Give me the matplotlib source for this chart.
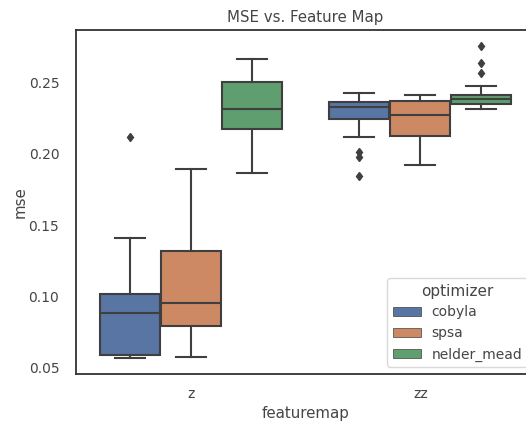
import matplotlib
matplotlib.use("Agg")
import matplotlib.pyplot as plt
from matplotlib.patches import Patch


FEATUREMAPS = ["z", "zz"]
OPTIMIZERS = ["cobyla", "spsa", "nelder_mead"]
COLORS = ["#5875a4", "#cc8963", "#5f9e6e"]

# box stats per optimizer, one value per featuremap (z, zz)
WHISLO = {
    "cobyla": [0.057, 0.2113],
    "spsa": [0.0577, 0.1917],
    "nelder_mead": [0.1864, 0.2313],
}
Q1 = {
    "cobyla": [0.059, 0.2239],
    "spsa": [0.0794, 0.2122],
    "nelder_mead": [0.2169, 0.2348],
}
MEDIAN = {
    "cobyla": [0.0885, 0.2327],
    "spsa": [0.0955, 0.2267],
    "nelder_mead": [0.2313, 0.2381],
}
Q3 = {
    "cobyla": [0.1017, 0.2362],
    "spsa": [0.1318, 0.2367],
    "nelder_mead": [0.2498, 0.2411],
}
WHISHI = {
    "cobyla": [0.1410, 0.2423],
    "spsa": [0.1890, 0.2409],
    "nelder_mead": [0.2663, 0.2474],
}
FLIERS = {
    "cobyla": [[0.2115], [0.2013, 0.1978, 0.1843]],
    "spsa": [[], []],
    "nelder_mead": [[], [0.2754, 0.2635, 0.2565]],
}

LINE_GRAY = "#3f3f3f"
TEXT_GRAY = "#454545"


def main():
    fig = plt.figure(figsize=(5.26, 4.23), dpi=100)
    ax = fig.add_axes([76 / 526, 49 / 423, 459 / 526, 344 / 423])

    group_width = 0.8
    n = len(OPTIMIZERS)
    box_width = group_width / n * 0.98

    for j, opt in enumerate(OPTIMIZERS):
        offset = (j - (n - 1) / 2) * group_width / n
        stats = []
        for i in range(len(FEATUREMAPS)):
            stats.append({
                "whislo": WHISLO[opt][i],
                "q1": Q1[opt][i],
                "med": MEDIAN[opt][i],
                "q3": Q3[opt][i],
                "whishi": WHISHI[opt][i],
                "fliers": FLIERS[opt][i],
            })
        positions = [i + offset for i in range(len(FEATUREMAPS))]
        ax.bxp(
            stats,
            positions=positions,
            widths=box_width,
            patch_artist=True,
            manage_ticks=False,
            boxprops=dict(facecolor=COLORS[j], edgecolor=LINE_GRAY,
                          linewidth=1.5),
            medianprops=dict(color=LINE_GRAY, linewidth=1.5),
            whiskerprops=dict(color=LINE_GRAY, linewidth=1.5),
            capprops=dict(color=LINE_GRAY, linewidth=1.5),
            flierprops=dict(marker="d", markerfacecolor=LINE_GRAY,
                            markeredgecolor=LINE_GRAY, markersize=4.5,
                            linestyle="none"),
        )

    ax.set_xlim(-0.5, 1.5)
    ax.set_ylim(0.0458, 0.2864)
    ax.set_xticks(range(len(FEATUREMAPS)))
    ax.set_xticklabels(FEATUREMAPS)
    ax.set_yticks([0.05, 0.10, 0.15, 0.20, 0.25])
    ax.set_yticklabels(["0.05", "0.10", "0.15", "0.20", "0.25"])
    ax.tick_params(axis="y", length=0, labelsize=10, labelcolor=TEXT_GRAY,
                   pad=12)
    ax.tick_params(axis="x", length=0, labelsize=10, labelcolor=TEXT_GRAY,
                   pad=9)

    for spine in ax.spines.values():
        spine.set_color("#333333")
        spine.set_linewidth(1.3)

    ax.set_title("MSE vs. Feature Map", fontsize=10.8, color=TEXT_GRAY,
                 pad=6)
    ax.set_xlabel("featuremap", fontsize=10.8, color=TEXT_GRAY, labelpad=4)
    ax.set_ylabel("mse", fontsize=10.8, color=TEXT_GRAY, labelpad=1)

    handles = [Patch(facecolor=c, edgecolor=LINE_GRAY, linewidth=0.5)
               for c in COLORS]
    leg = ax.legend(
        handles,
        OPTIMIZERS,
        title="optimizer",
        loc="lower right",
        fontsize=10,
        title_fontsize=11,
        frameon=True,
        bbox_to_anchor=(1.0, 0.0),
        borderaxespad=0.5,
    )
    leg.get_frame().set_edgecolor("#d0d0d0")
    for t in leg.get_texts():
        t.set_color(TEXT_GRAY)
    leg.get_title().set_color(TEXT_GRAY)

    fig.savefig("out.png", dpi=100)
    plt.close(fig)


if __name__ == "__main__":
    main()
